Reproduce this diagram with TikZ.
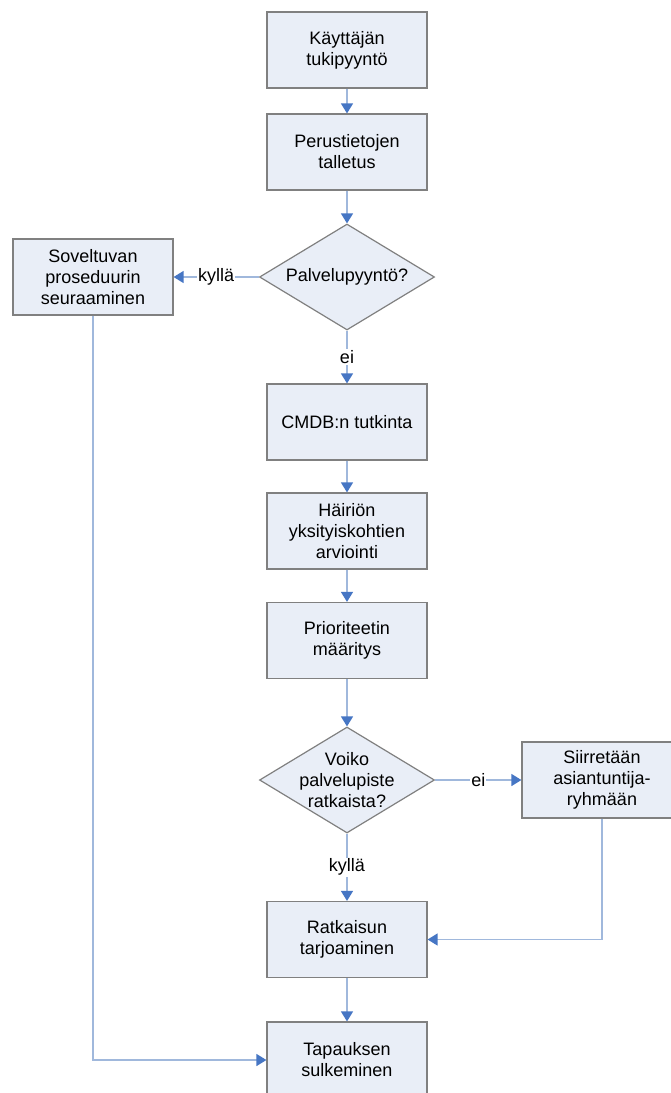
\documentclass[tikz,border=0pt]{standalone}
\usepackage{fontspec}
\setmainfont{Liberation Sans}
\usetikzlibrary{shapes.geometric,arrows.meta}
\definecolor{boxfill}{RGB}{233,238,247}
\definecolor{boxline}{RGB}{128,128,128}
\definecolor{wire}{RGB}{160,184,220}
\definecolor{tipblue}{RGB}{70,118,196}
\begin{document}
\begin{tikzpicture}[x=1pt,y=-1pt,
  font=\fontsize{18}{21}\selectfont,
  stepbox/.style={rectangle,draw=boxline,fill=boxfill,line width=1.2pt,
    minimum width=160pt,minimum height=76pt,align=center,inner sep=2pt},
  decision/.style={diamond,draw=boxline,fill=boxfill,line width=1.2pt,
    minimum width=175pt,minimum height=106pt,aspect=1.65,inner sep=0pt},
  flow/.style={draw=wire,line width=1.3pt,
    -{Triangle[length=10pt,width=12pt,fill=tipblue,color=tipblue]}},
  plain/.style={draw=wire,line width=1.3pt},
  tag/.style={fill=white,inner sep=1pt}]
\useasboundingbox (0,0) rectangle (671,1093);
\clip (0,0) rectangle (671,1093);
\fill[white] (0,0) rectangle (671,1093);

\node[stepbox] (req)  at (347,50)    {Käyttäjän\\tukipyyntö};
\node[stepbox] (base) at (347,152)   {Perustietojen\\talletus};
\node[decision,label={[align=center]center:Palvelupyyntö?}] (svc) at (347,277) {};
\node[stepbox] (proc) at (93,277)    {Soveltuvan\\proseduurin\\seuraaminen};
\node[stepbox] (cmdb) at (347,422)   {CMDB:n tutkinta};
\node[stepbox] (eval) at (347,531)   {Häiriön\\yksityiskohtien\\arviointi};
\node[stepbox] (prio) at (347,640.5) {Prioriteetin\\määritys};
\node[decision,label={[align=center]center:Voiko\\palvelupiste\\ratkaista?}] (can) at (347,780) {};
\node[stepbox] (exp)  at (602,780)   {Siirretään\\asiantuntija-\\ryhmään};
\node[stepbox] (sol)  at (347,939.5) {Ratkaisun\\tarjoaminen};
\node[stepbox] (close) at (347,1060) {Tapauksen\\sulkeminen};

\draw[flow] (req) -- (base);
\draw[flow] (base) -- (svc.north);
\draw[flow] (svc.west) -- node[tag] (y1) {kyllä} (proc.east);
\draw[flow] (svc.south) -- node[tag] (n1) {ei} (cmdb.north);
\draw[flow] (cmdb) -- (eval);
\draw[flow] (eval) -- (prio);
\draw[flow] (prio) -- (can.north);
\draw[flow] (can.east) -- node[tag] (n2) {ei} (exp.west);
\draw[flow] (can.south) -- node[tag] (y2) {kyllä} (sol.north);
\draw[flow] (sol) -- (close);
\draw[flow] (exp.south) |- (sol.east);
\draw[flow] (proc.south) |- (close.west);
\end{tikzpicture}
\end{document}
